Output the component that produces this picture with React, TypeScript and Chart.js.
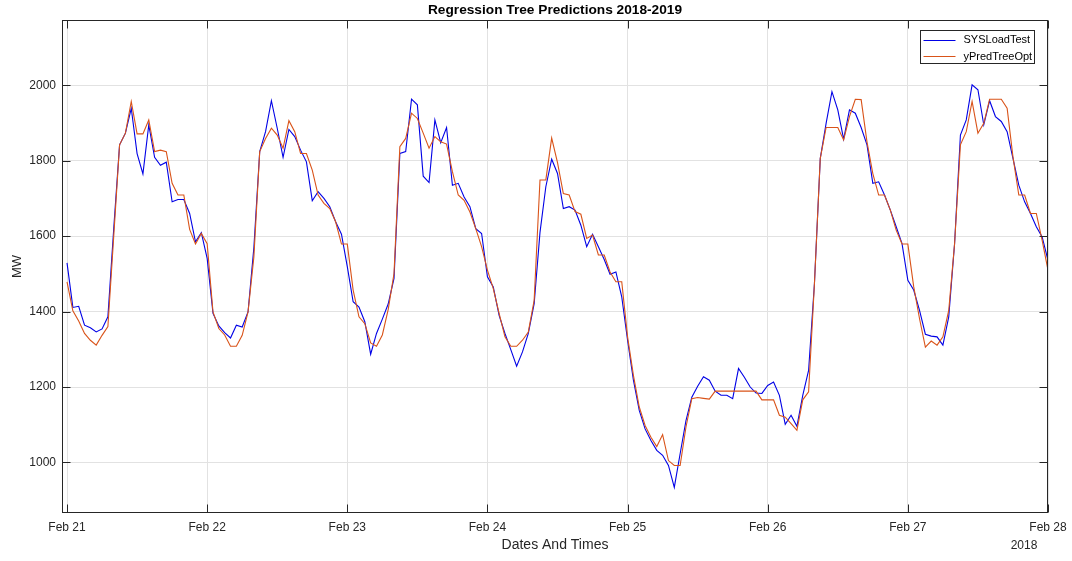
import { useEffect, useRef } from 'react';
import { Chart, registerables } from 'chart.js';

Chart.register(...registerables);

// Hourly system load (MW), Feb 21 00:00 through Feb 28 00:00
const sysLoadTest = [
  1529, 1411, 1414, 1364, 1357, 1346, 1354, 1386, 1620, 1842, 1873, 1939, 1819, 1765, 1895, 1809,
  1788, 1796, 1691, 1697, 1697, 1660, 1585, 1609,
  1541, 1395, 1362, 1344, 1330, 1364, 1359, 1399, 1570, 1824, 1877, 1959, 1886, 1809, 1883, 1864,
  1828, 1797, 1694, 1718, 1700, 1678, 1638, 1605,
  1519, 1426, 1412, 1373, 1287, 1342, 1380, 1420, 1488, 1819, 1824, 1963, 1948, 1759, 1742, 1908,
  1848, 1888, 1735, 1740, 1704, 1678, 1620, 1607,
  1492, 1465, 1390, 1342, 1299, 1255, 1293, 1342, 1421, 1610, 1731, 1804, 1766, 1673, 1678, 1669,
  1629, 1572, 1605, 1572, 1538, 1499, 1505, 1439,
  1324, 1218, 1138, 1089, 1058, 1032, 1019, 992, 934, 1023, 1111, 1173, 1202, 1227, 1218, 1189,
  1178, 1178, 1169, 1249, 1226, 1200, 1184, 1183,
  1204, 1213, 1178, 1101, 1125, 1096, 1178, 1244, 1474, 1806, 1899, 1983, 1935, 1857, 1935, 1926,
  1888, 1842, 1740, 1744, 1709, 1669, 1625, 1580,
  1483, 1457, 1403, 1340, 1335, 1333, 1311, 1386, 1580, 1868, 1908, 2001, 1988, 1895, 1959, 1917,
  1904, 1877, 1806, 1735, 1691, 1660, 1625, 1598,
  1536,
];

// Regression tree predictions for the same hours
const yPredTreeOpt = [
  1479, 1402, 1375, 1342, 1324, 1311, 1337, 1360, 1600, 1842, 1873, 1957, 1871, 1871, 1908, 1824,
  1828, 1824, 1740, 1709, 1709, 1618, 1579, 1607,
  1580, 1399, 1355, 1338, 1308, 1308, 1337, 1399, 1545, 1824, 1859, 1886, 1868, 1833, 1906, 1877,
  1819, 1819, 1775, 1709, 1687, 1673, 1638, 1579,
  1579, 1457, 1386, 1368, 1317, 1308, 1338, 1405, 1501, 1837, 1859, 1926, 1912, 1873, 1833, 1864,
  1850, 1844, 1771, 1709, 1695, 1664, 1620, 1572,
  1510, 1461, 1395, 1333, 1308, 1308, 1324, 1346, 1430, 1749, 1749, 1860, 1795, 1713, 1709, 1665,
  1658, 1594, 1603, 1550, 1550, 1505, 1479, 1479,
  1333, 1231, 1147, 1098, 1067, 1042, 1074, 1005, 992, 992, 1094, 1169, 1172, 1170, 1168, 1189,
  1189, 1189, 1189, 1189, 1189, 1189, 1189, 1166,
  1166, 1166, 1125, 1120, 1103, 1085, 1166, 1187, 1474, 1806, 1888, 1888, 1888, 1855, 1917, 1963,
  1962, 1850, 1766, 1709, 1709, 1669, 1616, 1579,
  1579, 1466, 1381, 1306, 1322, 1311, 1333, 1403, 1580, 1842, 1877, 1957, 1873, 1899, 1963, 1963,
  1963, 1939, 1810, 1709, 1709, 1660, 1660, 1589,
  1510,
];

const dayTickHours = [0, 24, 48, 72, 96, 120, 144, 168];
const dayTickLabels = ['Feb 21', 'Feb 22', 'Feb 23', 'Feb 24', 'Feb 25', 'Feb 26', 'Feb 27', 'Feb 28'];
const loadTickValues = [1000, 1200, 1400, 1600, 1800, 2000];
const seriesNames = ['SYSLoadTest', 'yPredTreeOpt'];
const seriesColors = ['#0000e6', '#d95319'];
const chartTitle = 'Regression Tree Predictions 2018-2019';
const xAxisTitle = 'Dates And Times';
const yAxisTitle = 'MW';
const yearLabel = '2018';

const FONT = '"Liberation Sans", Arial, Helvetica, sans-serif';
const AXIS_COLOR = '#262626';
const GRID_COLOR = '#e2e2e2';

// Box around the axes plus inward tick marks on all four sides
const axesFrame = {
  id: 'axesFrame',
  afterDatasetsDraw(chart: any) {
    const { ctx, chartArea: a, scales } = chart;
    const xs = scales.x;
    const ys = scales.y;
    const L = Math.round(a.left) + 0.5;
    const R = Math.round(a.right) - 0.5;
    const T = Math.round(a.top) + 0.5;
    const B = Math.round(a.bottom) - 0.5;
    const len = 8;
    ctx.save();
    ctx.strokeStyle = AXIS_COLOR;
    ctx.lineWidth = 1;
    ctx.beginPath();
    for (const v of dayTickHours) {
      const px = Math.round(xs.getPixelForValue(v)) + 0.5;
      ctx.moveTo(px, B);
      ctx.lineTo(px, B - len);
      ctx.moveTo(px, T);
      ctx.lineTo(px, T + len);
    }
    for (const v of loadTickValues) {
      const py = Math.round(ys.getPixelForValue(v)) + 0.5;
      ctx.moveTo(L, py);
      ctx.lineTo(L + len, py);
      ctx.moveTo(R, py);
      ctx.lineTo(R - len, py);
    }
    ctx.stroke();
    ctx.strokeRect(L, T, R - L, B - T);
    ctx.restore();
  },
};

// Boxed legend in the upper right corner of the axes
const boxedLegend = {
  id: 'boxedLegend',
  afterDraw(chart: any) {
    const { ctx, chartArea: a } = chart;
    const w = 114;
    const h = 33;
    const x0 = Math.round(a.right - 14 - w) + 0.5;
    const y0 = Math.round(a.top + 10) + 0.5;
    ctx.save();
    ctx.fillStyle = '#ffffff';
    ctx.fillRect(x0, y0, w, h);
    ctx.strokeStyle = AXIS_COLOR;
    ctx.lineWidth = 1;
    ctx.strokeRect(x0, y0, w, h);
    ctx.font = `11px ${FONT}`;
    ctx.textBaseline = 'middle';
    ctx.textAlign = 'left';
    seriesNames.forEach((name, i) => {
      const cy = y0 + 9 + i * 16.5;
      ctx.strokeStyle = seriesColors[i];
      ctx.beginPath();
      ctx.moveTo(x0 + 3, Math.round(cy) + 0.5);
      ctx.lineTo(x0 + 35, Math.round(cy) + 0.5);
      ctx.stroke();
      ctx.fillStyle = '#000000';
      ctx.fillText(name, x0 + 43, cy + 0.5);
    });
    ctx.restore();
  },
};

// Year marker under the last date tick
const yearMarker = {
  id: 'yearMarker',
  afterDraw(chart: any) {
    const { ctx, chartArea: a } = chart;
    ctx.save();
    ctx.font = `12px ${FONT}`;
    ctx.fillStyle = AXIS_COLOR;
    ctx.textAlign = 'center';
    ctx.textBaseline = 'middle';
    ctx.fillText(yearLabel, a.right - 24, 545.5);
    ctx.restore();
  },
};

export default function App() {
  const canvasRef = useRef<HTMLCanvasElement | null>(null);

  useEffect(() => {
    const canvas = canvasRef.current;
    if (!canvas) return;
    Chart.defaults.font.family = FONT;

    const chart = new Chart(canvas, {
      type: 'line',
      data: {
        datasets: [
          {
            label: seriesNames[0],
            data: sysLoadTest.map((v, i) => ({ x: i, y: v })),
            borderColor: seriesColors[0],
            backgroundColor: seriesColors[0],
            borderWidth: 1.1,
            pointRadius: 0,
            tension: 0,
            order: 1,
          },
          {
            label: seriesNames[1],
            data: yPredTreeOpt.map((v, i) => ({ x: i, y: v })),
            borderColor: seriesColors[1],
            backgroundColor: seriesColors[1],
            borderWidth: 1.1,
            pointRadius: 0,
            tension: 0,
            order: 0,
          },
        ],
      },
      options: {
        animation: false,
        responsive: false,
        devicePixelRatio: 1,
        events: [],
        layout: { padding: { left: 0, right: 24, top: 0, bottom: 0 } },
        plugins: {
          legend: { display: false },
          tooltip: { enabled: false },
          title: {
            display: true,
            text: chartTitle,
            fullSize: false,
            color: '#000000',
            font: { size: 13.7, weight: 'bold', family: FONT },
            padding: { top: 2, bottom: 1.56 },
          },
        },
        scales: {
          x: {
            type: 'linear',
            min: -0.86,
            max: 168,
            afterBuildTicks: (s: any) => {
              s.ticks = dayTickHours.map((v) => ({ value: v }));
            },
            afterFit: (s: any) => {
              s.height = 48;
              s.paddingLeft = 0;
              s.paddingRight = 0;
            },
            ticks: {
              autoSkip: false,
              maxRotation: 0,
              minRotation: 0,
              padding: 7.5,
              color: AXIS_COLOR,
              font: { size: 12, family: FONT },
              callback: (_v: any, i: number) => dayTickLabels[i],
            },
            grid: { color: GRID_COLOR, drawTicks: false, lineWidth: 1 },
            border: { display: false },
            title: {
              display: true,
              text: xAxisTitle,
              color: AXIS_COLOR,
              font: { size: 14, family: FONT },
              padding: { top: 0, bottom: 7 },
            },
          },
          y: {
            type: 'linear',
            min: 866,
            max: 2173,
            afterBuildTicks: (s: any) => {
              s.ticks = loadTickValues.map((v) => ({ value: v }));
            },
            afterFit: (s: any) => {
              s.width = 62;
              s.paddingTop = 0;
              s.paddingBottom = 0;
            },
            ticks: {
              padding: 6,
              color: AXIS_COLOR,
              font: { size: 12, family: FONT },
              callback: (v: any) => String(v),
            },
            grid: { color: GRID_COLOR, drawTicks: false, lineWidth: 1 },
            border: { display: false },
            title: {
              display: true,
              text: yAxisTitle,
              color: AXIS_COLOR,
              font: { size: 13, family: FONT },
              padding: { top: 9.4, bottom: 0 },
            },
          },
        },
      },
      plugins: [axesFrame, boxedLegend, yearMarker],
    });

    return () => chart.destroy();
  }, []);

  return (
    <div style={{ position: 'fixed', left: 0, top: 0, width: 1072, height: 561, background: '#ffffff' }}>
      <canvas ref={canvasRef} width={1072} height={561} style={{ display: 'block', width: 1072, height: 561 }} />
    </div>
  );
}
